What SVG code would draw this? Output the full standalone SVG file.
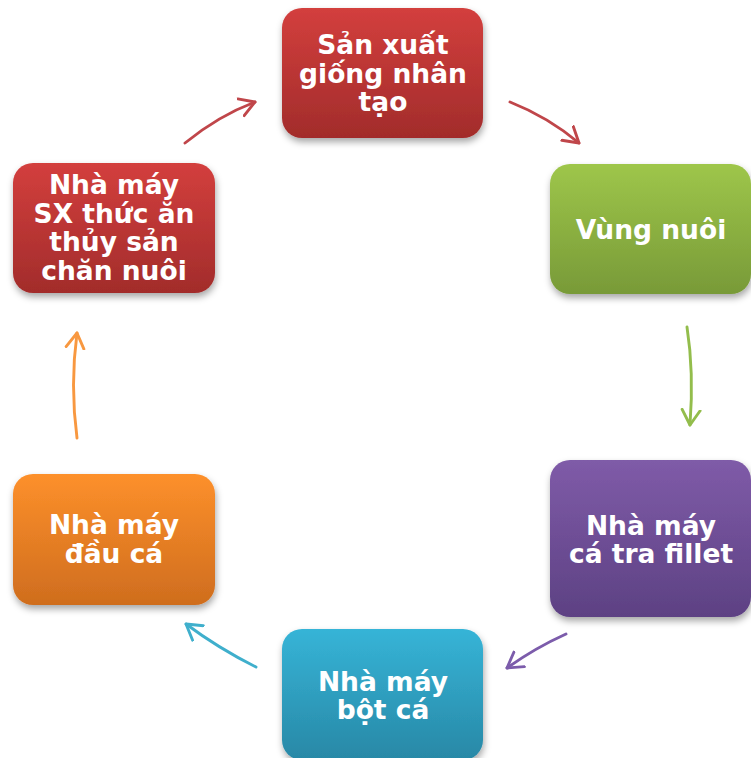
<svg xmlns="http://www.w3.org/2000/svg" width="751" height="758" viewBox="0 0 751 758">
<defs>
<style>
.lbl{font-family:"DejaVu Sans","Verdana",sans-serif;font-weight:bold;font-size:26.5px;fill:#ffffff;text-anchor:middle}
.c{fill:none;stroke-width:2.9;stroke-linecap:round}
</style>
<filter id="sh" x="-10%" y="-10%" width="125%" height="130%">
<feDropShadow dx="1" dy="4" stdDeviation="3.5" flood-color="#000" flood-opacity="0.35"/>
</filter>
<linearGradient id="gRed" x1="0" y1="0" x2="0" y2="1"><stop offset="0" stop-color="#d33f3d"/><stop offset="1" stop-color="#a22c2b"/></linearGradient>
<linearGradient id="gGreen" x1="0" y1="0" x2="0" y2="1"><stop offset="0" stop-color="#9ec64a"/><stop offset="1" stop-color="#789a38"/></linearGradient>
<linearGradient id="gPurple" x1="0" y1="0" x2="0" y2="1"><stop offset="0" stop-color="#7f5ba8"/><stop offset="1" stop-color="#5d4183"/></linearGradient>
<linearGradient id="gCyan" x1="0" y1="0" x2="0" y2="1"><stop offset="0" stop-color="#36b4d7"/><stop offset="1" stop-color="#2888a6"/></linearGradient>
<linearGradient id="gOrange" x1="0" y1="0" x2="0" y2="1"><stop offset="0" stop-color="#fd902b"/><stop offset="1" stop-color="#cf6d1e"/></linearGradient>
<marker id="mRed" markerUnits="userSpaceOnUse" markerWidth="32" markerHeight="32" refX="16" refY="16" orient="auto"><path d="M1,7 L16,16 L1,25" fill="none" stroke="#c0464a" stroke-width="2.9" stroke-linecap="round" stroke-linejoin="round"/></marker>
<marker id="mGreen" markerUnits="userSpaceOnUse" markerWidth="32" markerHeight="32" refX="16" refY="16" orient="auto"><path d="M1,7 L16,16 L1,25" fill="none" stroke="#93bd4c" stroke-width="2.9" stroke-linecap="round" stroke-linejoin="round"/></marker>
<marker id="mPurple" markerUnits="userSpaceOnUse" markerWidth="32" markerHeight="32" refX="16" refY="16" orient="auto"><path d="M1,7 L16,16 L1,25" fill="none" stroke="#7c5cab" stroke-width="2.9" stroke-linecap="round" stroke-linejoin="round"/></marker>
<marker id="mCyan" markerUnits="userSpaceOnUse" markerWidth="32" markerHeight="32" refX="16" refY="16" orient="auto"><path d="M1,7 L16,16 L1,25" fill="none" stroke="#3fafcc" stroke-width="2.9" stroke-linecap="round" stroke-linejoin="round"/></marker>
<marker id="mOrange" markerUnits="userSpaceOnUse" markerWidth="32" markerHeight="32" refX="16" refY="16" orient="auto"><path d="M1,7 L16,16 L1,25" fill="none" stroke="#f89840" stroke-width="2.9" stroke-linecap="round" stroke-linejoin="round"/></marker>
</defs>
<rect width="751" height="758" fill="#ffffff"/>
<g id="connectors">
<path class="c" stroke="#c0464a" d="M185,143 Q218,116 255,102" marker-end="url(#mRed)"/>
<path class="c" stroke="#c0464a" d="M510,102 Q548,117 579,143" marker-end="url(#mRed)"/>
<path class="c" stroke="#93bd4c" d="M687,327 Q694,372 690,425" marker-end="url(#mGreen)"/>
<path class="c" stroke="#7c5cab" d="M566,634 Q535,648 507,668" marker-end="url(#mPurple)"/>
<path class="c" stroke="#3fafcc" d="M256,667 Q218,648 186,624" marker-end="url(#mCyan)"/>
<path class="c" stroke="#f89840" d="M77,438 Q70,385 77,333" marker-end="url(#mOrange)"/>
</g>
<g id="n1">
<rect x="282" y="8" width="201" height="130" rx="20" fill="url(#gRed)" filter="url(#sh)"/>
<text class="lbl" x="383" y="54">Sản xuất</text>
<text class="lbl" x="383" y="83">giống nhân</text>
<text class="lbl" x="383" y="111">tạo</text>
</g>
<g id="n2">
<rect x="550" y="164" width="201" height="130" rx="20" fill="url(#gGreen)" filter="url(#sh)"/>
<text class="lbl" x="651" y="239">Vùng nuôi</text>
</g>
<g id="n3">
<rect x="550" y="460" width="201" height="157" rx="20" fill="url(#gPurple)" filter="url(#sh)"/>
<text class="lbl" x="651" y="535">Nhà máy</text>
<text class="lbl" x="651" y="563">cá tra fillet</text>
</g>
<g id="n4">
<rect x="282" y="629" width="201" height="131" rx="20" fill="url(#gCyan)" filter="url(#sh)"/>
<text class="lbl" x="383" y="691">Nhà máy</text>
<text class="lbl" x="383" y="719">bột cá</text>
</g>
<g id="n5">
<rect x="13" y="474" width="202" height="131" rx="20" fill="url(#gOrange)" filter="url(#sh)"/>
<text class="lbl" x="114" y="534">Nhà máy</text>
<text class="lbl" x="114" y="563">đầu cá</text>
</g>
<g id="n6">
<rect x="13" y="163" width="202" height="130" rx="20" fill="url(#gRed)" filter="url(#sh)"/>
<text class="lbl" x="114" y="194">Nhà máy</text>
<text class="lbl" x="114" y="223">SX thức ăn</text>
<text class="lbl" x="114" y="251">thủy sản</text>
<text class="lbl" x="114" y="280">chăn nuôi</text>
</g>
</svg>
